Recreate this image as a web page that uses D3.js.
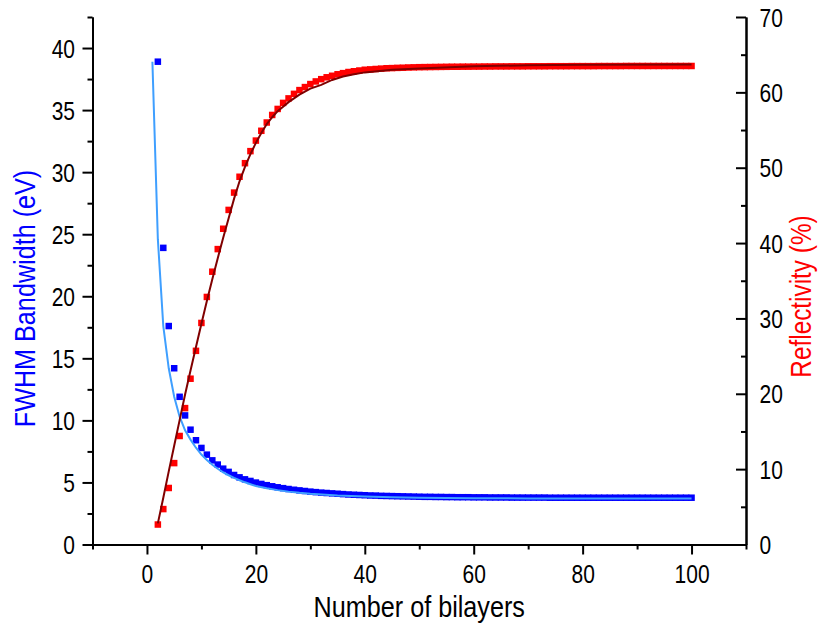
<!DOCTYPE html>
<html lang="en">
<head>
<meta charset="UTF-8">
<title>FWHM and reflectivity vs bilayers</title>
<style>
  body { margin: 0; background: #fff; }
  text { font-family: "Liberation Sans", Arial, sans-serif; }
</style>
</head>
<body>
<div id="chart"></div>
<script src="https://cdn.jsdelivr.net/npm/d3@7"></script>
<script>
// measured points, N = 2..100
const bilayers = d3.range(2, 101);

const fwhm = [
  38.9, 23.9, 17.6, 14.2, 11.9, 10.4, 9.25, 8.4, 7.78,
  7.24, 6.78, 6.44, 6.11, 5.85, 5.6, 5.41, 5.25, 5.12, 4.99,
  4.88, 4.78, 4.69, 4.61, 4.54, 4.47, 4.41, 4.36, 4.31, 4.26,
  4.22, 4.18, 4.15, 4.12, 4.09, 4.06, 4.03, 4.01, 3.99, 3.97,
  3.95, 3.94, 3.92, 3.91, 3.9, 3.89, 3.88, 3.87, 3.86, 3.85,
  3.84, 3.84, 3.83, 3.83, 3.82, 3.82, 3.81, 3.81, 3.81, 3.8,
  3.8, 3.8, 3.79, 3.79, 3.79, 3.79, 3.78, 3.78, 3.78, 3.78,
  3.78, 3.78, 3.78, 3.77, 3.77, 3.77, 3.77, 3.77, 3.77, 3.77,
  3.77, 3.77, 3.77, 3.77, 3.77, 3.77, 3.77, 3.77, 3.77, 3.77,
  3.77, 3.77, 3.77, 3.77, 3.77, 3.77, 3.77, 3.77, 3.77, 3.77
];

const reflect = [
  2.65, 4.7, 7.5, 10.8, 14.4, 18.1, 22.0, 25.7, 29.4,
  32.85, 36.2, 39.2, 41.9, 44.4, 46.7, 48.8, 50.6, 52.2, 53.6,
  54.9, 56.0, 57.0, 57.8, 58.6, 59.2, 59.8, 60.3, 60.7, 61.1,
  61.45, 61.75, 62.0, 62.2, 62.4, 62.55, 62.7, 62.8, 62.9, 63.0,
  63.05, 63.1, 63.15, 63.2, 63.22, 63.25, 63.27, 63.3, 63.32, 63.34,
  63.35, 63.36, 63.37, 63.38, 63.39, 63.4, 63.4, 63.41, 63.41, 63.42,
  63.42, 63.43, 63.43, 63.44, 63.44, 63.44, 63.45, 63.45, 63.45, 63.46,
  63.46, 63.46, 63.46, 63.47, 63.47, 63.47, 63.47, 63.48, 63.48, 63.48,
  63.48, 63.48, 63.49, 63.49, 63.49, 63.49, 63.49, 63.5, 63.5, 63.5,
  63.5, 63.5, 63.5, 63.5, 63.5, 63.5, 63.5, 63.5, 63.5, 63.5
];

// fitted curves
const fwhmFitN = [1, 2, 3, 4, 5, 6, 7, 8, 9, 10, 11, 12, 13, 14, 15, 16, 17, 18, 19, 20,
  22, 24, 26, 28, 30, 35, 40, 45, 50, 60, 70, 80, 90, 100];
const fwhmFit = [38.9, 24.6, 17.6, 14.2, 11.9, 10.3, 9.2, 8.45, 7.8, 7.25, 6.8, 6.42, 6.1, 5.82, 5.58, 5.37, 5.18, 5.01, 4.86, 4.72,
  4.53, 4.38, 4.26, 4.16, 4.08, 3.95, 3.87, 3.81, 3.77, 3.73, 3.71, 3.7, 3.7, 3.7];

const reflFitN = [2, 3, 4, 5, 6, 7, 8, 9, 10, 11, 12, 13, 14, 15, 16, 17, 18, 19, 20,
  21, 22, 23, 24, 25, 26, 27, 28, 29, 30, 32, 34, 36, 38, 40, 45, 50, 60, 70, 80, 100];
const reflFit = [2.8, 6.2, 9.7, 13.1, 16.5, 19.9, 23.1, 26.2, 29.3, 32.3, 35.2, 38.0, 40.7, 43.3, 45.9, 48.2, 50.1, 51.8, 53.3,
  54.6, 55.8, 56.7, 57.5, 58.1, 58.7, 59.2, 59.7, 60.1, 60.5, 61.0, 61.65, 62.1, 62.4, 62.65, 63.0, 63.15, 63.45, 63.6, 63.65, 63.7];

const xTicks = [0, 20, 40, 60, 80, 100];
const xMinor = [-10, 10, 30, 50, 70, 90, 110];
const yLTicks = [0, 5, 10, 15, 20, 25, 30, 35, 40];
const yLMinor = [2.5, 7.5, 12.5, 17.5, 22.5, 27.5, 32.5, 37.5, 42.5];
const yRTicks = [0, 10, 20, 30, 40, 50, 60, 70];
const yRMinor = [5, 15, 25, 35, 45, 55, 65];

const width = 819, height = 628;
const plotL = 92.5, plotR = 746, plotT = 17, plotB = 544.5;
const sx = 0.84; // narrow glyphs

const svg = d3.select("#chart").append("svg")
    .attr("width", width)
    .attr("height", height);

const x = d3.scaleLinear().domain([-10, 110]).range([plotL, plotR]);
const yL = d3.scaleLinear().domain([0, 42.5]).range([plotB, plotT]);
const yR = d3.scaleLinear().domain([0, 70]).range([plotB, plotT]);

// points
const sq = 6.5;
svg.append("g").selectAll("rect")
    .data(bilayers)
    .join("rect")
    .attr("x", d => x(d) - sq / 2)
    .attr("y", (d, i) => yL(fwhm[i]) - sq / 2)
    .attr("width", sq).attr("height", sq)
    .attr("fill", "#0000ff");

svg.append("g").selectAll("rect")
    .data(bilayers)
    .join("rect")
    .attr("x", d => x(d) - sq / 2)
    .attr("y", (d, i) => yR(reflect[i]) - sq / 2)
    .attr("width", sq).attr("height", sq)
    .attr("fill", "#ff0000");

// fit lines
svg.append("path")
    .attr("fill", "none")
    .attr("stroke", "#3f9fff")
    .attr("stroke-width", 2)
    .attr("d", d3.line().x(d => x(d)).y((d, i) => yL(fwhmFit[i]))(fwhmFitN));

svg.append("path")
    .attr("fill", "none")
    .attr("stroke", "#800000")
    .attr("stroke-width", 2)
    .attr("d", d3.line().x(d => x(d)).y((d, i) => yR(reflFit[i]))(reflFitN));

// axes
function styleAxis(g) {
    g.selectAll("path, line").attr("stroke", "#000").attr("stroke-width", 2);
    g.selectAll("text").attr("fill", "#000").style("font-size", "25px")
        .style("font-family", "'Liberation Sans', Arial, sans-serif");
}

const gx = svg.append("g").attr("transform", `translate(0,${plotB})`)
    .call(d3.axisBottom(x).tickValues(xTicks).tickSize(10).tickSizeOuter(0).tickFormat(d3.format("d")))
    .call(styleAxis);
gx.selectAll(".tick text").attr("dy", null).attr("y", 38.5)
    .attr("transform", `scale(${sx},1)`);
svg.append("g").attr("transform", `translate(0,${plotB})`)
    .call(d3.axisBottom(x).tickValues(xMinor).tickSize(5).tickSizeOuter(0).tickFormat(""))
    .call(styleAxis);

const gl = svg.append("g").attr("transform", `translate(${plotL},0)`)
    .call(d3.axisLeft(yL).tickValues(yLTicks).tickSize(10).tickSizeOuter(0).tickFormat(d3.format("d")))
    .call(styleAxis);
gl.selectAll(".tick text").attr("x", -17.5 / sx).attr("dy", "0.36em")
    .attr("transform", `scale(${sx},1)`);
svg.append("g").attr("transform", `translate(${plotL},0)`)
    .call(d3.axisLeft(yL).tickValues(yLMinor).tickSize(5).tickSizeOuter(0).tickFormat(""))
    .call(styleAxis);

// right axis: ticks point inward
const gr = svg.append("g").attr("transform", `translate(${plotR},0)`)
    .call(d3.axisRight(yR).tickValues(yRTicks).tickSize(-10).tickSizeOuter(0).tickFormat(d3.format("d")))
    .call(styleAxis);
gr.selectAll(".tick text").attr("x", 13.5 / sx).attr("dy", "0.36em")
    .attr("text-anchor", "start")
    .attr("transform", `scale(${sx},1)`);
svg.append("g").attr("transform", `translate(${plotR},0)`)
    .call(d3.axisRight(yR).tickValues(yRMinor).tickSize(-5).tickSizeOuter(0).tickFormat(""))
    .call(styleAxis);

// titles
svg.append("text")
    .attr("transform", `translate(${(plotL + plotR) / 2},617) scale(${sx},1)`)
    .attr("text-anchor", "middle")
    .style("font-size", "30px")
    .attr("fill", "#000")
    .text("Number of bilayers");

svg.append("text")
    .attr("transform", `translate(35,298.5) rotate(-90) scale(${sx},1)`)
    .attr("text-anchor", "middle")
    .style("font-size", "30px")
    .attr("fill", "#0000ff")
    .text("FWHM Bandwidth (eV)");

svg.append("text")
    .attr("transform", `translate(811,296.5) rotate(-90) scale(${sx},1)`)
    .attr("text-anchor", "middle")
    .style("font-size", "29px")
    .attr("fill", "#ff0000")
    .text("Reflectivity (%)");
</script>
</body>
</html>
